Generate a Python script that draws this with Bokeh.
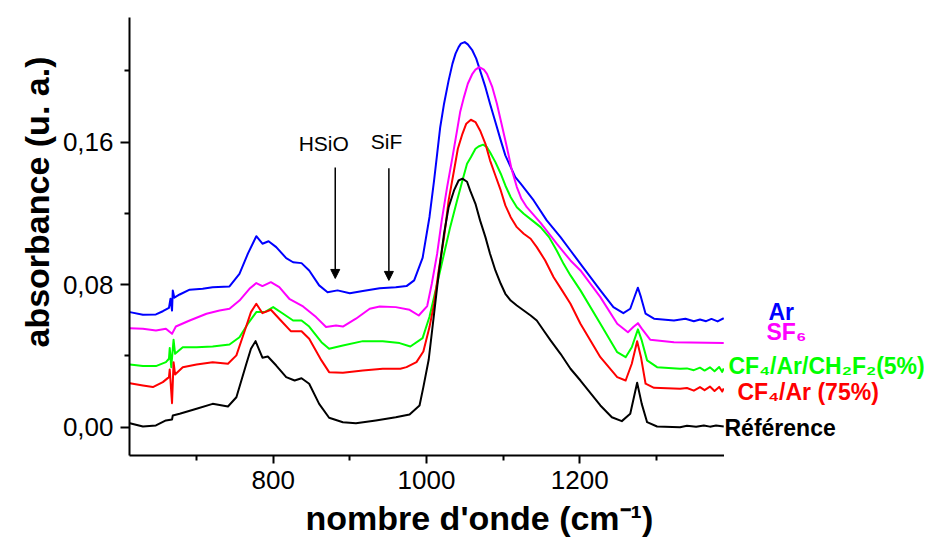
from bokeh.plotting import figure
from bokeh.layouts import row
from bokeh.models import Range1d, FixedTicker, CustomJSTickFormatter, Label, Arrow, NormalHead, Title
from bokeh.embed import file_html
from bokeh.resources import INLINE

# ---- data: (wavenumber cm-1, absorbance) ----
ar = [(613, .0646), (630, .0631), (647, .0633), (656, .0651), (664, .0670), (666, .0721), (668, .0655),
      (669, .0768), (671, .0727), (678, .0745), (691, .0772), (708, .0777), (721, .0786), (743, .0790),
      (756, .0861), (767, .0974), (778, .1072), (786, .1030), (794, .1044), (804, .1011), (817, .0949),
      (826, .0926), (837, .0921), (847, .0880), (860, .0796), (871, .0758), (884, .0768), (900, .0752),
      (917, .0764), (939, .0780), (960, .0786), (974, .0792), (984, .0824), (995, .0950), (1004, .1180),
      (1010, .1385), (1014, .1535), (1018, .1684), (1023, .1816), (1029, .1947), (1034, .2041), (1038, .2097),
      (1042, .2134), (1045, .2153), (1050, .2162), (1054, .2149), (1060, .2115), (1065, .2069), (1070, .2003),
      (1077, .1909), (1083, .1816), (1090, .1713), (1097, .1610), (1103, .1526), (1110, .1460), (1116, .1404),
      (1123, .1367), (1140, .1273), (1157, .1161), (1175, .1067), (1188, .0992), (1201, .0917), (1227, .0768),
      (1244, .0674), (1257, .0640), (1266, .0665), (1273, .0749), (1276, .0783), (1280, .0730), (1286, .0637),
      (1297, .0609), (1323, .0599), (1338, .0609), (1349, .0595), (1357, .0605), (1365, .0595), (1372, .0608),
      (1380, .0594), (1388, .0612)]

sf6 = [(613, .0556), (630, .0553), (647, .0543), (660, .0553), (668, .0524), (673, .0565), (691, .0599),
       (713, .0637), (730, .0655), (743, .0665), (756, .0711), (769, .0777), (778, .0809), (786, .0792),
       (797, .0814), (808, .0786), (821, .0721), (839, .0678), (856, .0618), (869, .0562), (882, .0571),
       (891, .0565), (908, .0609), (926, .0665), (939, .0678), (960, .0674), (978, .0659), (990, .0627),
       (1001, .0680), (1007, .0805), (1014, .0974), (1020, .1161), (1027, .1348), (1034, .1516), (1040, .1666),
       (1044, .1769), (1049, .1853), (1054, .1928), (1060, .1984), (1064, .2007), (1069, .2021), (1075, .2007),
       (1079, .1984), (1086, .1909), (1092, .1816), (1098, .1704), (1105, .1572), (1111, .1451), (1118, .1348),
       (1124, .1282), (1131, .1235), (1149, .1147), (1170, .1030), (1188, .0936), (1201, .0880), (1227, .0730),
       (1249, .0581), (1263, .0533), (1270, .0562), (1276, .0584), (1281, .0553), (1292, .0491), (1323, .0477),
       (1388, .0472)]

cf4_ar_ch2f2 = [(613, .0352), (630, .0343), (647, .0343), (660, .0365), (664, .0384), (665, .0444), (667, .0337),
                (670, .0491), (672, .0412), (682, .0449), (700, .0449), (721, .0453), (743, .0464), (756, .0505),
                (767, .0581), (778, .0646), (789, .0646), (800, .0674), (813, .0637), (826, .0599), (837, .0599),
                (847, .0565), (863, .0477), (873, .0440), (891, .0459), (917, .0483), (943, .0483), (965, .0472),
                (979, .0453), (995, .0500), (1004, .0620), (1014, .0805), (1023, .0974), (1031, .1123),
                (1040, .1273), (1047, .1385), (1053, .1479), (1058, .1516), (1064, .1563), (1068, .1576),
                (1074, .1586), (1079, .1572), (1083, .1544), (1090, .1488), (1097, .1423), (1103, .1357),
                (1110, .1291), (1118, .1235), (1127, .1198), (1138, .1161), (1149, .1123), (1160, .1067),
                (1170, .0992), (1179, .0917), (1188, .0852), (1201, .0768), (1227, .0581), (1249, .0421),
                (1260, .0393), (1268, .0449), (1276, .0549), (1281, .0487), (1288, .0375), (1301, .0337),
                (1331, .0328), (1340, .0330), (1349, .0320), (1357, .0334), (1363, .0318), (1370, .0336),
                (1376, .0314), (1382, .0338), (1386, .0310), (1388, .0330)]

cf4_ar = [(613, .0247), (630, .0234), (643, .0225), (656, .0253), (664, .0281), (665, .0324), (668, .0135),
          (670, .0365), (672, .0296), (682, .0337), (700, .0352), (721, .0365), (741, .0356), (752, .0403),
          (763, .0543), (771, .0646), (778, .0693), (786, .0640), (797, .0659), (810, .0599), (823, .0539),
          (837, .0539), (847, .0496), (863, .0375), (873, .0309), (891, .0305), (917, .0318), (943, .0328),
          (966, .0328), (974, .0337), (987, .0365), (996, .0425), (1004, .0562), (1010, .0693), (1016, .0880),
          (1023, .1067), (1029, .1273), (1036, .1441), (1041, .1563), (1047, .1647), (1052, .1704), (1058, .1726),
          (1064, .1713), (1070, .1666), (1077, .1591), (1083, .1498), (1090, .1413), (1097, .1329), (1103, .1245),
          (1110, .1179), (1118, .1123), (1127, .1086), (1136, .1058), (1144, .1011), (1155, .0936), (1166, .0842),
          (1177, .0768), (1188, .0693), (1201, .0581), (1227, .0393), (1249, .0281), (1260, .0262), (1268, .0356),
          (1275, .0483), (1280, .0393), (1286, .0244), (1297, .0221), (1331, .0216), (1340, .0220), (1349, .0205),
          (1357, .0225), (1363, .0208), (1370, .0228), (1376, .0203), (1382, .0226), (1386, .0200), (1388, .0218)]

reference = [(613, .0022), (630, .0004), (647, .0010), (660, .0038), (668, .0043), (669, .0066), (678, .0075),
             (700, .0103), (721, .0131), (741, .0116), (752, .0168), (765, .0356), (771, .0440), (777, .0483),
             (782, .0431), (786, .0390), (793, .0397), (804, .0346), (817, .0281), (828, .0262), (837, .0275),
             (847, .0244), (860, .0131), (873, .0053), (891, .0028), (908, .0022), (934, .0038), (960, .0056),
             (978, .0071), (991, .0122), (996, .0225), (1003, .0380), (1010, .0637), (1016, .0861), (1023, .1086),
             (1029, .1235), (1036, .1329), (1042, .1385), (1047, .1395), (1053, .1378), (1057, .1329),
             (1064, .1254), (1070, .1161), (1077, .1067), (1083, .0974), (1090, .0880), (1097, .0805),
             (1103, .0749), (1110, .0711), (1118, .0683), (1127, .0655), (1136, .0627), (1144, .0599),
             (1153, .0543), (1162, .0487), (1175, .0412), (1188, .0328), (1201, .0262), (1227, .0122),
             (1242, .0056), (1255, .0034), (1266, .0075), (1275, .0249), (1281, .0131), (1288, .0028),
             (1301, .0004), (1331, .0000), (1340, .0008), (1352, .0002), (1362, .0010), (1370, .0003),
             (1378, .0009), (1388, .0004)]

x_major = [800, 1000, 1200]
x_minor = [700, 900, 1100, 1300]
y_major = [0.0, 0.08, 0.16]
y_minor = [0.04, 0.12, 0.20]

series = [ar, sf6, cf4_ar_ch2f2, cf4_ar, reference]
series_names = ["Ar", "SF₆", "CF₄/Ar/CH₂F₂(5%)", "CF₄/Ar (75%)", "Référence"]
series_colors = ["#0000ff", "#ff00ff", "#00ff00", "#ff0000", "#000000"]
# label left edge (px from the side panel's left) and vertical middle (absorbance)
label_x = [44, 42, 4, 13, 0]
label_y = [0.0644, 0.0532, 0.0341, 0.0200, -0.0007]

FONT = "Liberation Sans"
H = 543

p = figure(width=724, height=H, output_backend="svg", toolbar_location=None,
           x_range=Range1d(612.5, 1389), y_range=Range1d(-0.0159, 0.2300),
           min_border_left=129, min_border_right=0, min_border_top=17, min_border_bottom=H - 455)
p.outline_line_color = None
p.grid.visible = False

for pts, c in zip(series, series_colors):
    xs = [a for a, b in pts]
    ys = [b for a, b in pts]
    p.line(xs, ys, line_color=c, line_width=2, line_join="round")

p.xaxis.ticker = FixedTicker(ticks=x_major, minor_ticks=x_minor)
p.yaxis.ticker = FixedTicker(ticks=y_major, minor_ticks=y_minor)
p.yaxis.formatter = CustomJSTickFormatter(code="return tick.toFixed(2).replace('.', ',');")

for ax in (p.xaxis[0], p.yaxis[0]):
    ax.axis_line_width = 2
    ax.axis_line_color = "black"
    ax.major_tick_line_width = 2
    ax.minor_tick_line_width = 2
    ax.major_tick_in = 0
    ax.minor_tick_in = 0
    ax.minor_tick_out = 5
    ax.major_label_text_font = FONT
    ax.major_label_text_font_size = "26px"
    ax.major_label_text_color = "black"
p.xaxis.major_tick_out = 8
p.yaxis.major_tick_out = 9
p.xaxis.major_label_standoff = 7
p.yaxis.major_label_standoff = 7

# axis titles (offset only acts with left/right alignment)
p.add_layout(Title(text="absorbance (u. a.)", align="left", offset=108, standoff=8,
                   text_font=FONT, text_font_size="34px", text_font_style="bold",
                   text_color="black"), "left")
p.add_layout(Title(text="nombre d'onde (cm⁻¹)", align="left", offset=176, standoff=10,
                   text_font=FONT, text_font_size="34px", text_font_style="bold",
                   text_color="black"), "below")

# band annotations
p.add_layout(Label(x=866, y=0.1590, text="HSiO", text_align="center", text_baseline="middle",
                   text_font=FONT, text_font_size="21px", text_color="black"))
p.add_layout(Label(x=948, y=0.1604, text="SiF", text_align="center", text_baseline="middle",
                   text_font=FONT, text_font_size="21px", text_color="black"))
for xa, y0, y1 in [(881, 0.1458, 0.0835), (951, 0.1453, 0.0824)]:
    p.add_layout(Arrow(end=NormalHead(size=9, fill_color="black", line_color="black", line_width=1),
                       x_start=xa, y_start=y0, x_end=xa, y_end=y1,
                       line_color="black", line_width=1.5))

# side panel with the coloured series names
p2 = figure(width=200, height=H, output_backend="svg", toolbar_location=None,
            x_range=Range1d(0, 200), y_range=p.y_range, x_axis_type=None, y_axis_type=None,
            min_border_left=0, min_border_right=0, min_border_top=17, min_border_bottom=H - 455)
p2.outline_line_color = None
p2.grid.visible = False
for name, c, lx, ly in zip(series_names, series_colors, label_x, label_y):
    p2.add_layout(Label(x=lx, y=ly, text=name, text_align="left", text_baseline="middle",
                        text_font=FONT, text_font_size="23px", text_font_style="bold", text_color=c))

layout = row(p, p2, spacing=0)
open("out.html", "w").write(file_html(layout, INLINE))
